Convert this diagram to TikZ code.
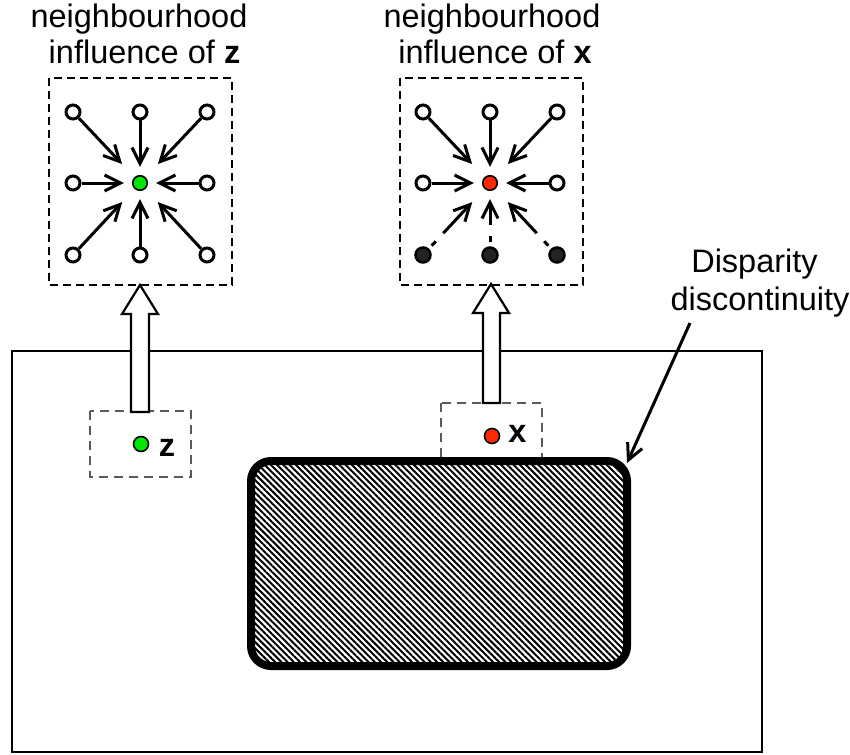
\documentclass[tikz,border=0pt]{standalone}
\usepackage{fontspec}
\setmainfont{Liberation Sans}
\usetikzlibrary{arrows.meta,patterns.meta,calc}
\definecolor{dotgreen}{RGB}{0,230,0}
\definecolor{dotred}{RGB}{255,40,0}
\definecolor{darkdot}{RGB}{35,35,35}
\definecolor{boxgray}{RGB}{90,90,90}
\begin{document}
\begin{tikzpicture}[x=1pt,y=-1pt,
  bigfont/.style={font=\fontsize{32.5}{36}\selectfont},
  opennode/.style={circle,draw,line width=3pt,fill=white,minimum size=14pt,inner sep=0pt},
  darknode/.style={circle,draw,line width=2.5pt,fill=darkdot,minimum size=15pt,inner sep=0pt},
  centernode/.style={circle,draw,line width=1.6pt,minimum size=14.5pt,inner sep=0pt},
  infl/.style={line width=3pt,-{Straight Barb[length=16pt,width=16pt,line width=3pt]}},
  straightinfl/.style={infl,shorten >=8pt},
  diaginfl/.style={infl,shorten >=18pt},
  dashedinfl/.style={dash pattern=on 0pt off 4pt on 6pt off 11pt on 200pt},
  bigbox/.style={draw,line width=2pt,dash pattern=on 8pt off 5pt},
  smallbox/.style={draw=boxgray,line width=1.4pt,dash pattern=on 9pt off 6pt},
  blockarrow/.style={draw,line width=2.2pt,fill=white,line join=miter},
]
\useasboundingbox (0,0) rectangle (850,754);

% outer frame
\draw[line width=2pt] (12,351) rectangle (762,752);

% titles
\node[bigfont,anchor=base] (tz1) at (139,27.5) {neighbourhood};
\node[bigfont,anchor=base] (tz2) at (144.5,63.5) {influence of \textbf{z}};
\node[bigfont,anchor=base] (tx1) at (492,27.5) {neighbourhood};
\node[bigfont,anchor=base] (tx2) at (495,63.5) {influence of \textbf{x}};

% big dashed boxes
\draw[bigbox] (49,78) rectangle (232,285);
\draw[bigbox] (400,78) rectangle (583,285);

% left grid (z)
\node[centernode,fill=dotgreen] (zc) at (140,183) {};
\node[opennode] (z11) at (73,112) {};
\node[opennode] (z12) at (140,112) {};
\node[opennode] (z13) at (207,112) {};
\node[opennode] (z21) at (73,183) {};
\node[opennode] (z23) at (207,183) {};
\node[opennode] (z31) at (73,255) {};
\node[opennode] (z32) at (140,255) {};
\node[opennode] (z33) at (207,255) {};
\draw[diaginfl] (z11) -- (zc);
\draw[straightinfl] (z12) -- (zc);
\draw[diaginfl] (z13) -- (zc);
\draw[straightinfl] (z21) -- (zc);
\draw[straightinfl] (z23) -- (zc);
\draw[diaginfl] (z31) -- (zc);
\draw[straightinfl] (z32) -- (zc);
\draw[diaginfl] (z33) -- (zc);

% right grid (x)
\node[centernode,fill=dotred] (xc) at (490,183) {};
\node[opennode] (x11) at (423,112) {};
\node[opennode] (x12) at (490,112) {};
\node[opennode] (x13) at (557,112) {};
\node[opennode] (x21) at (423,183) {};
\node[opennode] (x23) at (557,183) {};
\node[darknode] (x31) at (423,255) {};
\node[darknode] (x32) at (490,255) {};
\node[darknode] (x33) at (557,255) {};
\draw[diaginfl] (x11) -- (xc);
\draw[straightinfl] (x12) -- (xc);
\draw[diaginfl] (x13) -- (xc);
\draw[straightinfl] (x21) -- (xc);
\draw[straightinfl] (x23) -- (xc);
\draw[diaginfl,dashedinfl] (x31) -- (xc);
\draw[straightinfl,dashedinfl] (x32) -- (xc);
\draw[diaginfl,dashedinfl] (x33) -- (xc);

% small dashed boxes
\draw[smallbox] (441,403) rectangle (542,472);
\draw[smallbox] (90,411) rectangle (191,477);

% points
\node[centernode,fill=dotgreen,minimum size=15pt] (zp) at (141,444) {};
\node[font=\fontsize{32.5}{36}\selectfont\bfseries,anchor=base] (zl) at (167,456.5) {z};
\node[centernode,fill=dotred,minimum size=15pt] (xp) at (492,436) {};
\node[font=\fontsize{32.5}{36}\selectfont\bfseries,anchor=base] (xl) at (517.5,442) {x};

% block arrows
\draw[blockarrow] (131,412) -- (131,314) -- (122,314) -- (140,285) -- (158,314) -- (149,314) -- (149,412) -- cycle;
\draw[blockarrow] (483,403) -- (483,313) -- (473,313) -- (491,284) -- (509,313) -- (500,313) -- (500,403) -- cycle;

% hatched region
\draw[line width=8pt,rounded corners=20pt,preaction={fill=white},
      pattern={Lines[angle=-45,distance=4.4pt,line width=2pt]}]
      (251,461) rectangle (627,666);

% disparity label
\node[bigfont,anchor=base] (d1) at (754.5,272) {Disparity};
\node[bigfont,anchor=base] (d2) at (760,310) {discontinuity};
\coordinate (dstart) at (690,323);
\coordinate (dtip) at (627,463);
\draw[infl] (dstart) -- (dtip);
\end{tikzpicture}
\end{document}
